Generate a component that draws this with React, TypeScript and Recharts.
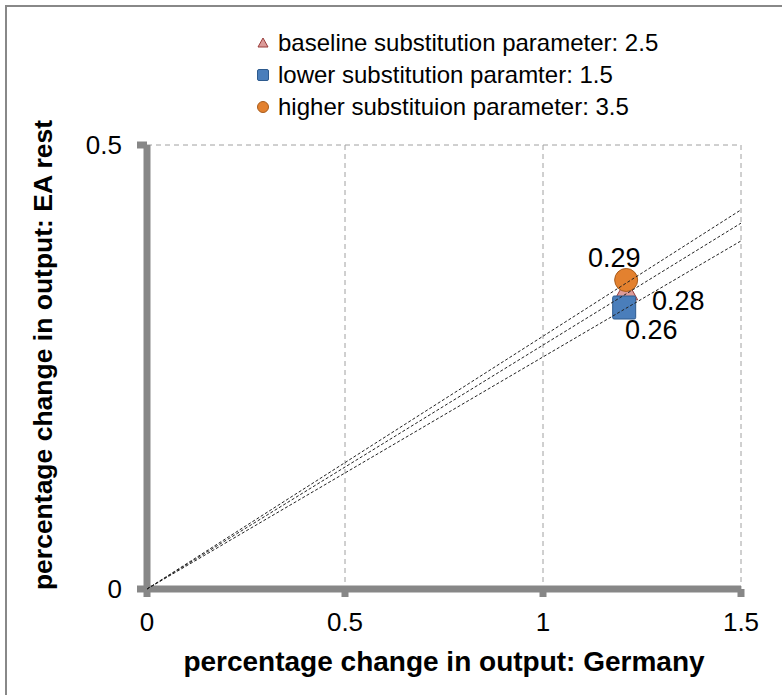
import React from 'react';
import { ScatterChart, Scatter, XAxis, YAxis, CartesianGrid, LabelList } from 'recharts';

const seriesNames = [
  'baseline substitution parameter: 2.5',
  'lower substitution paramter: 1.5',
  'higher substituion parameter: 3.5',
];
const germanyOutput = [1.21, 1.205, 1.21];
const eaRestOutput = [0.336, 0.317, 0.348];
const pointLabels = ['0.28', '0.26', '0.29'];
// trend line values at the right end of the x range
const trendX = [0, 1.5];
const trendEnd = [0.412, 0.392, 0.427];
const xTicks = [0, 0.5, 1, 1.5];
const yTicks = [0, 0.5];

const FONT = '"Liberation Sans", Arial, sans-serif';
const AXIS_GRAY = '#878787';

const STYLES = [
  { fill: '#dc9b99', stroke: '#9a3d3b', shape: 'triangle' },
  { fill: '#4a7ebb', stroke: '#2d5a8e', shape: 'square' },
  { fill: '#e3812f', stroke: '#a85c1c', shape: 'circle' },
];

function Marker({ kind, cx, cy, r, fill, stroke }: { kind: string; cx: number; cy: number; r: number; fill: string; stroke: string }) {
  if (kind === 'circle') return <circle cx={cx} cy={cy} r={r} fill={fill} stroke={stroke} strokeWidth={1} />;
  if (kind === 'square') return <rect x={cx - r} y={cy - r} width={r * 2} height={r * 2} rx={1.5} fill={fill} stroke={stroke} strokeWidth={1} />;
  return (
    <polygon points={`${cx},${cy - r} ${cx + r},${cy + r * 0.8} ${cx - r},${cy + r * 0.8}`} fill={fill} stroke={stroke} strokeWidth={1} />
  );
}

const labelPos = [
  { dx: 52, dy: 10 },
  { dx: 27, dy: 22 },
  { dx: -12, dy: -22 },
];

const makeLabel = (i: number) => (props: any) => {
  const { x, y, width, height, value } = props;
  const cx = x + (width || 0) / 2;
  const cy = y + (height || 0) / 2;
  return (
    <text x={cx + labelPos[i].dx} y={cy + labelPos[i].dy} textAnchor="middle" dominantBaseline="central"
      fontFamily={FONT} fontSize={27} fill="#000">{value}</text>
  );
};

const drawOrder = [0, 1, 2];

export default function App() {
  const pointData = seriesNames.map((name, i) => [{ x: germanyOutput[i], y: eaRestOutput[i], label: pointLabels[i] }]);
  const trendData = trendEnd.map(end => trendX.map(x => ({ x, y: (end / trendX[1]) * x })));

  return (
    <div style={{ position: 'absolute', left: 0, top: 0, width: 782, height: 695, background: '#fff', fontFamily: FONT }}>
      <div style={{ position: 'absolute', left: 5, top: 5, width: 777, height: 690, borderTop: '2px solid #888', borderLeft: '2px solid #888' }} />

      {/* legend */}
      <div style={{ position: 'absolute', left: 252, top: 27 }}>
        {seriesNames.map((name, i) => (
          <div key={name} style={{ display: 'flex', alignItems: 'center', height: 32, fontSize: 24, color: '#000' }}>
            <svg width={22} height={20} style={{ marginRight: 4 }}>
              <Marker kind={STYLES[i].shape} cx={11} cy={10} r={i === 0 ? 5 : 5.5} fill={STYLES[i].fill} stroke={STYLES[i].stroke} />
            </svg>
            <span>{name}</span>
          </div>
        ))}
      </div>

      <div style={{ position: 'absolute', left: 0, top: 0 }}>
        <ScatterChart width={782} height={695} margin={{ top: 145, right: 41, left: 87, bottom: 46 }}>
          <CartesianGrid stroke="#a0a0a0" strokeDasharray="5 4" horizontalValues={[0.5]} verticalValues={[0.5, 1, 1.5]} />
          <XAxis
            type="number" dataKey="x" domain={[0, 1.5]} ticks={xTicks} height={60}
            axisLine={{ stroke: AXIS_GRAY, strokeWidth: 7 }}
            tickLine={{ stroke: AXIS_GRAY, strokeWidth: 7 }} tickSize={8} tickMargin={16}
            tick={{ fontSize: 26, fill: '#000', fontFamily: FONT }}
            label={{ value: 'percentage change in output: Germany', position: 'insideBottom', offset: -22, style: { fontSize: 28, fontWeight: 700, fill: '#000', fontFamily: FONT } }}
          />
          <YAxis
            type="number" dataKey="y" domain={[0, 0.5]} ticks={yTicks} width={60}
            axisLine={{ stroke: AXIS_GRAY, strokeWidth: 7 }}
            tickLine={{ stroke: AXIS_GRAY, strokeWidth: 7 }} tickSize={10} tickMargin={15}
            tick={{ fontSize: 26, fill: '#000', fontFamily: FONT }}
            label={{ value: 'percentage change in output: EA rest', angle: -90, position: 'insideLeft', offset: -44, dy: -12, style: { fontSize: 26.5, fontWeight: 700, fill: '#000', fontFamily: FONT, textAnchor: 'middle' } }}
          />
          {drawOrder.map(i => (
            <Scatter key={'p' + i} name={seriesNames[i]} data={pointData[i]} isAnimationActive={false}
              shape={(p: any) => <Marker kind={STYLES[i].shape} cx={p.cx} cy={p.cy} r={11.5} fill={STYLES[i].fill} stroke={STYLES[i].stroke} />}>
              <LabelList dataKey="label" content={makeLabel(i)} />
            </Scatter>
          ))}
          {trendData.map((d, i) => (
            <Scatter key={'t' + i} data={d} isAnimationActive={false} legendType="none"
              line={{ stroke: '#222', strokeWidth: 1, strokeDasharray: '3 2' }}
              shape={() => <g />} />
          ))}
        </ScatterChart>
      </div>
    </div>
  );
}
